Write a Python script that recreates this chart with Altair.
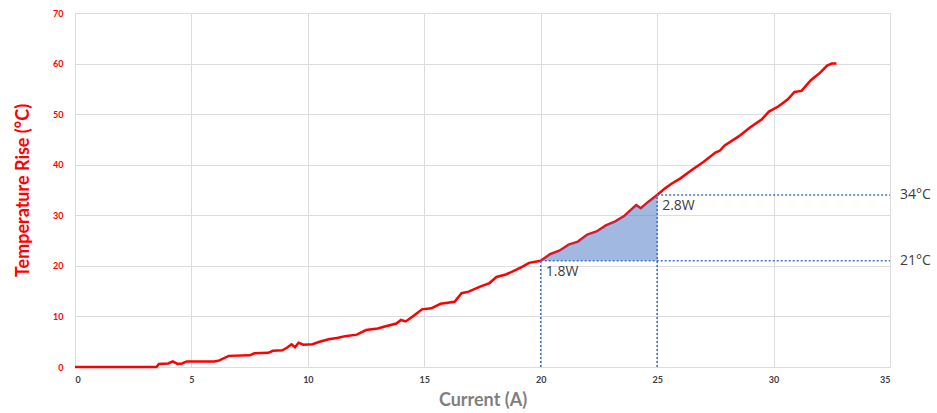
import altair as alt
import pandas as pd

current = [0, 3.5, 3.6, 4.0, 4.2, 4.4, 4.6, 4.8, 6.0, 6.2, 6.6, 7.5, 7.7, 8.3, 8.5, 8.9, 9.1, 9.3,
           9.45, 9.6, 9.8, 10.2, 10.5, 10.9, 11.3, 11.6, 12.1, 12.5, 13.0, 13.3, 13.8, 14.0, 14.2,
           14.5, 14.9, 15.3, 15.7, 16.3, 16.6, 16.9, 17.4, 17.8, 18.1, 18.5, 18.8, 19.2, 19.5, 20.0,
           20.4, 20.8, 21.2, 21.6, 22.0, 22.4, 22.8, 23.2, 23.6, 24.0, 24.1, 24.3, 24.6, 25.0, 25.3,
           25.6, 26.0, 26.5, 27.0, 27.5, 27.7, 27.9, 28.5, 29.0, 29.5, 29.8, 30.2, 30.6, 30.9, 31.2,
           31.6, 32.0, 32.3, 32.5, 32.7]
temp = [0, 0, 0.6, 0.7, 1.1, 0.6, 0.7, 1.1, 1.1, 1.3, 2.2, 2.3, 2.7, 2.8, 3.2, 3.3, 3.8, 4.5,
        3.9, 4.8, 4.4, 4.5, 5.0, 5.5, 5.8, 6.1, 6.4, 7.3, 7.6, 8.0, 8.6, 9.3, 9.0,
        10.0, 11.4, 11.6, 12.5, 12.9, 14.6, 14.9, 15.9, 16.6, 17.8, 18.3, 18.9, 19.8, 20.6, 21.0,
        22.3, 23.0, 24.2, 24.8, 26.2, 26.8, 28.0, 28.8, 29.9, 31.6, 32.0, 31.4, 32.6, 34.0, 35.2,
        36.2, 37.3, 39.0, 40.6, 42.4, 42.8, 43.8, 45.6, 47.4, 49.0, 50.5, 51.5, 52.9, 54.4, 54.6,
        56.7, 58.2, 59.6, 60.0, 60.0]

fill_lo, fill_hi = 20.0, 25.0
t_low, t_high = 21, 34
x_lo_label, x_hi_label = "1.8W", "2.8W"

df = pd.DataFrame({"current": current, "temp": temp})
df_fill = df[(df.current >= fill_lo) & (df.current <= fill_hi)].copy()
df_fill["base"] = t_low

x_scale = alt.Scale(domain=[0, 35], nice=False)
y_scale = alt.Scale(domain=[0, 70], nice=False)

x_axis = alt.Axis(values=[0, 5, 10, 15, 20, 25, 30, 35], title="Current (A)", ticks=False,
                  labelFont="Lato", labelFontSize=9, labelFontWeight="bold", labelColor="#404040",
                  labelPadding=8, titleFont="Lato", titleFontSize=18, titleFontWeight="bold",
                  titleColor="#7f7f7f", titlePadding=7, gridColor="#dcdcdc", domainColor="#dcdcdc")
y_axis = alt.Axis(values=[0, 10, 20, 30, 40, 50, 60, 70], title="Temperature Rise (°C)", ticks=False,
                  labelFont="Lato", labelFontSize=9, labelFontWeight="bold", labelColor="#FF0000",
                  labelPadding=12, titleFont="Lato", titleFontSize=18, titleFontWeight="bold",
                  titleColor="#FF0000", titlePadding=20, gridColor="#dcdcdc", domainColor="#dcdcdc")

line = alt.Chart(df).mark_line(color="#FF0000", strokeWidth=2.5).encode(
    x=alt.X("current:Q", scale=x_scale, axis=x_axis),
    y=alt.Y("temp:Q", scale=y_scale, axis=y_axis),
)

area = alt.Chart(df_fill).mark_area(color="#4472C4", opacity=0.5).encode(
    x=alt.X("current:Q", scale=x_scale),
    y=alt.Y("temp:Q", scale=y_scale),
    y2="base:Q",
)

hlines = pd.DataFrame({"x": [fill_lo, fill_hi], "x2": [35, 35], "y": [t_low, t_high]})
vlines = pd.DataFrame({"x": [fill_lo, fill_hi], "y": [0, 0], "y2": [t_low, t_high]})

h = alt.Chart(hlines).mark_rule(color="#4472C4", strokeWidth=1.6, strokeDash=[2, 2]).encode(
    x=alt.X("x:Q", scale=x_scale), x2="x2:Q", y=alt.Y("y:Q", scale=y_scale))
v = alt.Chart(vlines).mark_rule(color="#4472C4", strokeWidth=1.6, strokeDash=[2, 2]).encode(
    x=alt.X("x:Q", scale=x_scale), y=alt.Y("y:Q", scale=y_scale), y2="y2:Q")

temp_labels = pd.DataFrame({"x": [35, 35], "y": [t_high, t_low], "t": [f"{t_high}°C", f"{t_low}°C"]})
tl = alt.Chart(temp_labels).mark_text(align="left", dx=10, font="Open Sans", fontSize=14,
                                      color="#404040").encode(
    x=alt.X("x:Q", scale=x_scale), y=alt.Y("y:Q", scale=y_scale), text="t:N")

w_labels = pd.DataFrame({"x": [fill_lo, fill_hi], "y": [t_low, t_high], "t": [x_lo_label, x_hi_label]})
wl = alt.Chart(w_labels).mark_text(align="left", baseline="top", dx=5, dy=4, font="Open Sans",
                                   fontSize=14, color="#404040").encode(
    x=alt.X("x:Q", scale=x_scale), y=alt.Y("y:Q", scale=y_scale), text="t:N")

chart = alt.layer(line, area, h, v, tl, wl).properties(
    width=815, height=354,
    autosize=alt.AutoSizeParams(type="none"),
    padding={"left": 75, "top": 13, "right": 47, "bottom": 46},
).configure_view(stroke=None)

chart.save("out.html", embed_options={"renderer": "svg", "actions": False})
